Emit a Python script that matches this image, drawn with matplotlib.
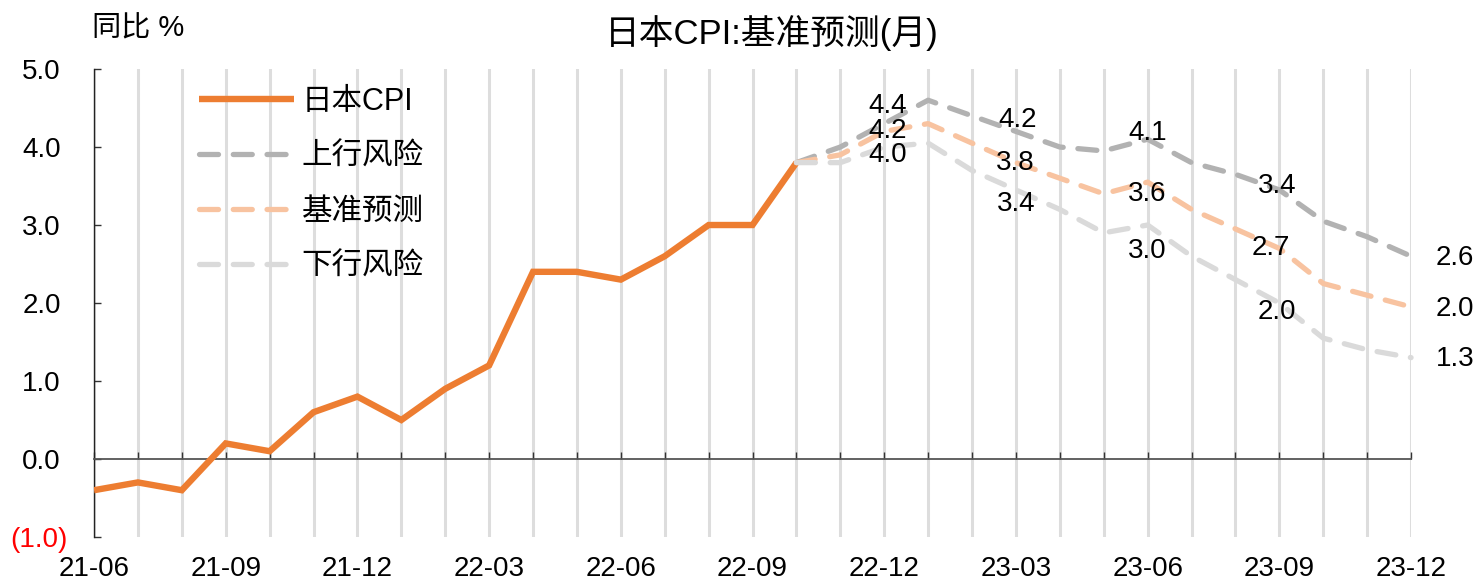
import numpy as np
import matplotlib.pyplot as plt
from matplotlib.ticker import FuncFormatter
from matplotlib.transforms import ScaledTranslation

plt.rcParams['font.family'] = ['Liberation Sans', 'Noto Sans CJK SC', 'DejaVu Sans']

# months 21-06 .. 23-12 -> index 0..30
n_months = 31
tick_labels = ['21-06', '21-09', '21-12', '22-03', '22-06', '22-09',
               '22-12', '23-03', '23-06', '23-09', '23-12']

# actual CPI, 21-06 .. 22-10
cpi = [-0.4, -0.3, -0.4, 0.2, 0.1, 0.6, 0.8, 0.5, 0.9, 1.2,
       2.4, 2.4, 2.3, 2.6, 3.0, 3.0, 3.8]

# forecasts, 22-10 .. 23-12
upside = [3.8, 4.0, 4.3, 4.6, 4.4, 4.2, 4.0, 3.95, 4.1, 3.8, 3.65, 3.45, 3.05, 2.85, 2.6]
baseline = [3.8, 3.9, 4.2, 4.3, 4.05, 3.8, 3.6, 3.4, 3.55, 3.2, 2.95, 2.7, 2.25, 2.1, 1.95]
downside = [3.8, 3.8, 4.0, 4.05, 3.7, 3.45, 3.2, 2.9, 3.0, 2.6, 2.3, 2.0, 1.55, 1.4, 1.3]

# labels at quarter-end months
label_idx = [18, 21, 24, 27, 30]
upside_labels = ['4.4', '4.2', '4.1', '3.4', '2.6']
baseline_labels = ['4.2', '3.8', '3.6', '2.7', '2.0']
downside_labels = ['4.0', '3.4', '3.0', '2.0', '1.3']

x_cpi = np.arange(len(cpi))
x_fc = np.arange(len(cpi) - 1, len(cpi) - 1 + len(upside))

fig = plt.figure(figsize=(14.78, 5.82), dpi=100)
ax = fig.add_axes([0.0636, 0.0773, 0.8911, 0.8041])

c_cpi = '#ED7D31'
c_up = '#B2B2B2'
c_base = '#F8C3A0'
c_down = '#DADADA'

dash = (3.6, 2.8)
ax.plot(x_cpi, cpi, color=c_cpi, lw=4.6, label='日本CPI', zorder=3,
        solid_joinstyle='miter', solid_capstyle='butt')
ax.plot(x_fc, upside, color=c_up, lw=3.8, dashes=dash, dash_capstyle='round',
        label='上行风险', zorder=4, clip_on=False)
ax.plot(x_fc, baseline, color=c_base, lw=3.8, dashes=dash, dash_capstyle='round',
        label='基准预测', zorder=5, clip_on=False)
ax.plot(x_fc, downside, color=c_down, lw=3.8, dashes=dash, dash_capstyle='round',
        label='下行风险', zorder=6, clip_on=False)

# data labels (offsets in pixels -> points)
px = 0.72
offs = {
    'up': [(3, -18), (2, -11), (0, -6), (-2, -4), (44, 2)],
    'base': [(3, 0), (-1, 0), (0, 12), (-9, 0), (44, 2)],
    'down': [(3, 8), (0, 14), (0, 26), (-2, 9), (44, 1)],
}
for key, vals, texts in [('up', upside, upside_labels),
                         ('base', baseline, baseline_labels),
                         ('down', downside, downside_labels)]:
    for (i, t, (dx, dy)) in zip(label_idx, texts, offs[key]):
        ax.annotate(t, (i, vals[i - x_fc[0]]), xytext=(dx * px, -dy * px),
                    textcoords='offset points', ha='center', va='center',
                    fontsize=20, zorder=10, annotation_clip=False)

ax.set_xlim(0, n_months - 1)
ax.set_ylim(-1, 5)

xlabels = ['' for _ in range(n_months)]
for k, lab in enumerate(tick_labels):
    xlabels[k * 3] = lab
ax.set_xticks(range(n_months))
ax.set_xticklabels(xlabels)
ax.set_yticks(np.arange(-1, 5.1, 1))
ax.yaxis.set_major_formatter(FuncFormatter(
    lambda v, p: f'({abs(v):.1f})' if v < 0 else f'{v:.1f}'))

for s in ['top', 'right']:
    ax.spines[s].set_visible(False)
ax.spines['bottom'].set_position(('data', 0))
ax.spines['bottom'].set_color('#555555')
ax.spines['left'].set_color('#222222')
ax.spines['bottom'].set_linewidth(1.3)
ax.spines['left'].set_linewidth(1.0)
ax.tick_params(axis='x', direction='in', length=5, width=1.0, color='#333333',
               pad=70, labelsize=20)
ax.tick_params(axis='y', direction='in', length=5, width=1.0, color='#333333',
               pad=24, labelsize=20)

# negative label in red, with the closing bracket hanging past the other numbers
neg_tick = ax.yaxis.get_major_ticks()[0]
neg_tick.label1.set_color('red')
neg_tick.label1.set_transform(neg_tick.label1.get_transform()
                              + ScaledTranslation(0.07, 0, fig.dpi_scale_trans))

ax.grid(axis='x', color='#DDDDDD', lw=2.2, zorder=0)
ax.set_axisbelow(True)

ax.legend(loc='upper left', bbox_to_anchor=(0.08, 0.962), frameon=False,
          fontsize=22, handlelength=3.1, handletextpad=0.25, labelspacing=0.82,
          borderpad=0, borderaxespad=0)

fig.text(0.522, 0.943, '日本CPI:基准预测(月)', ha='center', va='center', fontsize=25)
fig.text(0.062, 0.951, '同比 %', ha='left', va='center', fontsize=21)

fig.savefig('out.png', dpi=100)
